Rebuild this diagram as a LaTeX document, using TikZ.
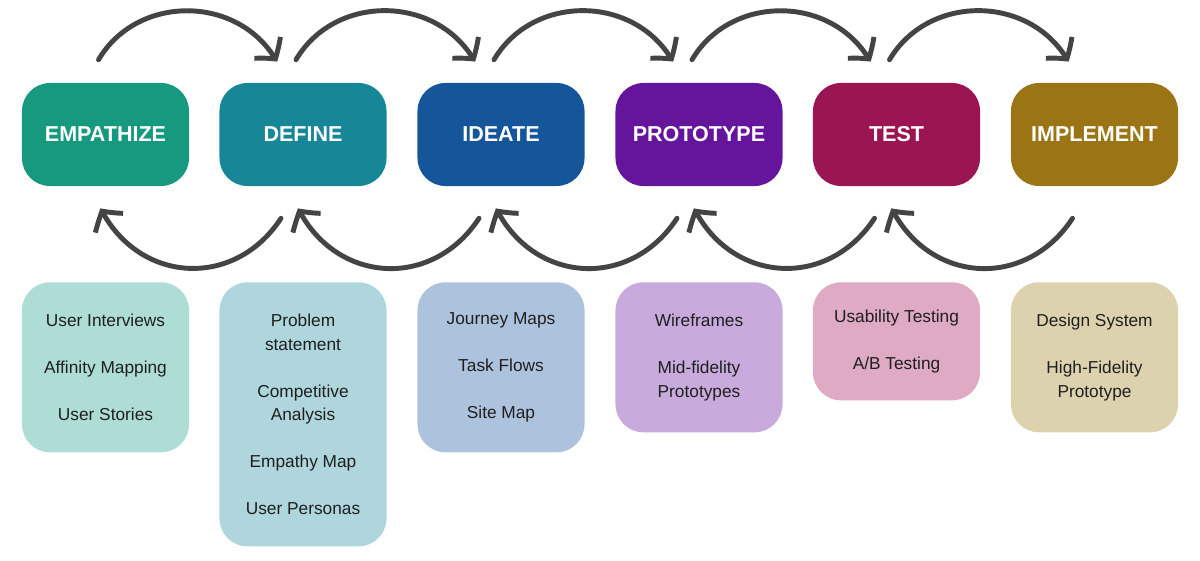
\documentclass[tikz,border=0pt]{standalone}
\usepackage{fontspec}
\setmainfont{Liberation Sans}
\definecolor{empdark}{HTML}{16997F}
\definecolor{defdark}{HTML}{178697}
\definecolor{idedark}{HTML}{15559A}
\definecolor{prodark}{HTML}{65159B}
\definecolor{tstdark}{HTML}{9C1553}
\definecolor{impdark}{HTML}{9B7515}
\definecolor{emplight}{HTML}{AEDDD6}
\definecolor{deflight}{HTML}{AED6DC}
\definecolor{idelight}{HTML}{ADC3DD}
\definecolor{prolight}{HTML}{C8ABDC}
\definecolor{tstlight}{HTML}{DEAAC4}
\definecolor{implight}{HTML}{DDD2AE}
\definecolor{arrowgray}{HTML}{444444}
\usetikzlibrary{arrows.meta, bending, positioning, calc}

\begin{document}
\begin{tikzpicture}[x=0.025cm, y=0.025cm,
      stagebox/.style={rounded corners=0.7cm, minimum width=4.175cm,
                    minimum height=2.575cm, inner sep=0pt, text=white,
                    font=\fontsize{15.3}{18}\selectfont\bfseries},
      listbox/.style={rounded corners=0.7cm, minimum width=4.175cm,
                    anchor=north, inner sep=0pt, align=center, text=black!88,
                    font=\fontsize{12.3}{16.7}\selectfont},
      flow/.style={-{Straight Barb[length=10pt,width=24pt,bend]}, line width=3.5pt,
                    line cap=round, draw=arrowgray, bend left=60}
    ]
      \useasboundingbox (0,0) rectangle (1200,-560);

      \node[stagebox, fill=empdark] (s1) at (105.5,-134.5) {EMPATHIZE};
      \node[stagebox, fill=defdark] (s2) at (303,-134.5) {DEFINE};
      \node[stagebox, fill=idedark] (s3) at (501,-134.5) {IDEATE};
      \node[stagebox, fill=prodark] (s4) at (699,-134.5) {PROTOTYPE};
      \node[stagebox, fill=tstdark] (s5) at (896.5,-134.5) {TEST};
      \node[stagebox, fill=impdark] (s6) at (1094.5,-134.5) {IMPLEMENT};

      \node[listbox, fill=emplight, minimum height=4.25cm] (l1) at (105.5,-282)
        {User Interviews\\[16.7pt]Affinity Mapping\\[16.7pt]User Stories};
      \node[listbox, fill=deflight, minimum height=6.6cm] (l2) at (303,-282)
        {Problem\\statement\\[16.7pt]Competitive\\Analysis\\[16.7pt]Empathy Map\\[16.7pt]User Personas};
      \node[listbox, fill=idelight, minimum height=4.25cm] (l3) at (501,-282)
        {Journey Maps\\[16.7pt]Task Flows\\[16.7pt]Site Map};
      \node[listbox, fill=prolight, minimum height=3.75cm] (l4) at (699,-282)
        {Wireframes\\[16.7pt]Mid-fidelity\\Prototypes};
      \node[listbox, fill=tstlight, minimum height=2.95cm] (l5) at (896.5,-282)
        {Usability Testing\\[16.7pt]A/B Testing};
      \node[listbox, fill=implight, minimum height=3.75cm] (l6) at (1094.5,-282)
        {Design System\\[16.7pt]High-Fidelity\\Prototype};

      % forward arcs over the top
      \draw[flow, looseness=1.1] ($(s1.north)+(-7,23)$) to ($(s2.north)+(-26,21)$);
      \draw[flow, looseness=1.1] ($(s2.north)+(-7,23)$) to ($(s3.north)+(-26,21)$);
      \draw[flow, looseness=1.1] ($(s3.north)+(-7,23)$) to ($(s4.north)+(-26,21)$);
      \draw[flow, looseness=1.1] ($(s4.north)+(-7,23)$) to ($(s5.north)+(-26,21)$);
      \draw[flow, looseness=1.1] ($(s5.north)+(-7,23)$) to ($(s6.north)+(-26,21)$);

      % backward arcs underneath
      \draw[flow, looseness=1.2] ($(s2.south)+(-22,-32)$) to ($(s1.south)+(-5,-22)$);
      \draw[flow, looseness=1.2] ($(s3.south)+(-22,-32)$) to ($(s2.south)+(-5,-22)$);
      \draw[flow, looseness=1.2] ($(s4.south)+(-22,-32)$) to ($(s3.south)+(-5,-22)$);
      \draw[flow, looseness=1.2] ($(s5.south)+(-22,-32)$) to ($(s4.south)+(-5,-22)$);
      \draw[flow, looseness=1.2] ($(s6.south)+(-22,-32)$) to ($(s5.south)+(-5,-22)$);
    \end{tikzpicture}
\end{document}
